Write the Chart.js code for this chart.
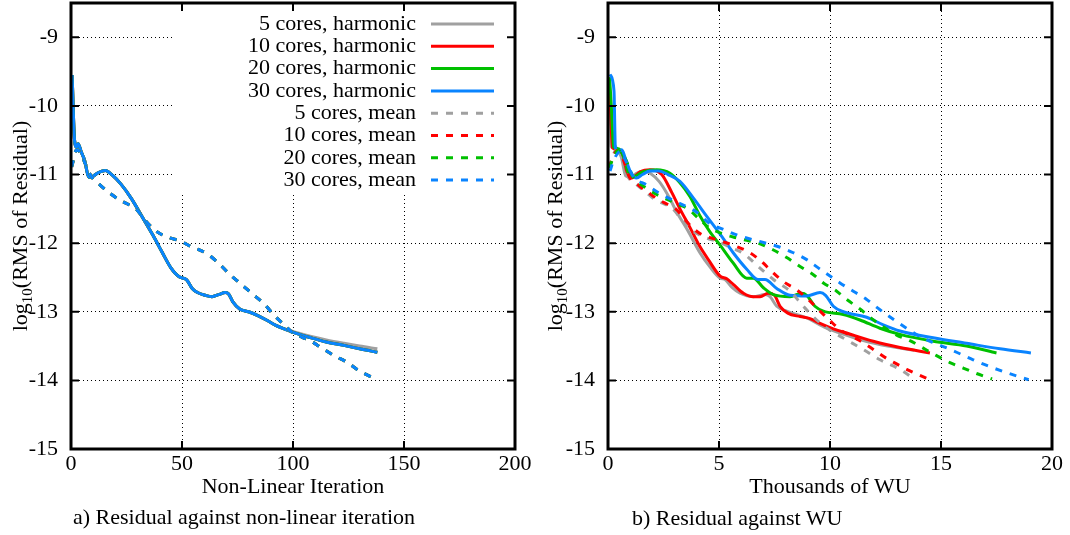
<!DOCTYPE html>
<html>
<head>
<meta charset="utf-8">
<script src="https://cdn.jsdelivr.net/npm/chart.js@4.4.1/dist/chart.umd.min.js"></script>
<style>
  body { margin: 0; background: #fff; width: 1070px; height: 535px; position: relative; overflow: hidden; }
  canvas { position: absolute; top: 0; }
  #cvIter { left: 0; }
  #cvWu { left: 535px; }
  .caption { position: absolute; font: 22px "Liberation Serif", serif; line-height: 22px; white-space: nowrap; color: #000; }
</style>
</head>
<body>
<canvas id="cvIter" width="535" height="535"></canvas>
<canvas id="cvWu" width="535" height="535"></canvas>
<div class="caption" style="left:73px; top:506px">a) Residual against non-linear iteration</div>
<div class="caption" style="left:632px; top:507px">b) Residual against WU</div>
<script>
// ******************************************************** DATA

var seriesLabels = ['5 cores, harmonic', '10 cores, harmonic', '20 cores, harmonic', '30 cores, harmonic',
                    '5 cores, mean', '10 cores, mean', '20 cores, mean', '30 cores, mean'];
var seriesColors = ['#a0a0a0', '#ff0000', '#00c000', '#0a84ff',
                    '#a0a0a0', '#ff0000', '#00c000', '#0a84ff'];
var seriesDashed = [false, false, false, false, true, true, true, true];

var yTicks = [-15, -14, -13, -12, -11, -10, -9];
var iterTicks = [0, 50, 100, 150, 200];
var wuTicks = [0, 5, 10, 15, 20];

// log10 residual against non-linear iteration: [iteration, value]
var iterHarm5 = [[0.5,-9.55],[1.6,-10.5],[2.5,-10.6],[3.2,-10.55],[4.6,-10.67],[6.2,-10.8],[8,-11.04],[9.6,-11.03],
  [12.4,-10.97],[15.5,-10.94],[18.6,-11.01],[22.5,-11.14],[27,-11.34],[32.5,-11.64],[37,-11.89],[41,-12.13],
  [45,-12.36],[48.7,-12.49],[52,-12.53],[54.6,-12.66],[57,-12.72],[60.5,-12.76],[63.5,-12.78],[66.5,-12.75],
  [69.5,-12.72],[71,-12.74],[73,-12.86],[76,-12.96],[80,-13.0],[84.4,-13.06],[88,-13.12],[91.8,-13.19],
  [99.3,-13.28],[108.2,-13.36],[115,-13.41],[123,-13.46],[130,-13.5],[138,-13.54]];
var iterHarm = [[0.5,-9.55],[1.6,-10.5],[2.5,-10.6],[3.2,-10.55],[4.6,-10.67],[6.2,-10.8],[8,-11.04],[9.6,-11.03],
  [12.4,-10.97],[15.5,-10.94],[18.6,-11.01],[22.5,-11.14],[27,-11.34],[32.5,-11.64],[37,-11.89],[41,-12.13],
  [45,-12.36],[48.7,-12.49],[52,-12.53],[54.6,-12.66],[57,-12.72],[60.5,-12.76],[63.5,-12.78],[66.5,-12.75],
  [69.5,-12.72],[71,-12.74],[73,-12.86],[76,-12.96],[80,-13.0],[84.4,-13.06],[88,-13.12],[91.8,-13.19],
  [99.3,-13.29],[108.2,-13.38],[115,-13.44],[123,-13.49],[130,-13.54],[138,-13.59]];
var iterMean = [[0.3,-10.89],[1,-10.8],[2.5,-10.64],[4.6,-10.7],[6.5,-10.85],[9.2,-11.03],[13,-11.15],[17.4,-11.27],
  [21.9,-11.37],[25.5,-11.43],[29.3,-11.5],[33,-11.65],[36.7,-11.78],[40,-11.86],[44.2,-11.92],[49.4,-11.97],
  [54,-12.05],[58,-12.1],[62,-12.17],[66.7,-12.3],[71.7,-12.46],[76,-12.58],[81.4,-12.73],[86.8,-12.88],
  [91.8,-13.06],[96,-13.19],[100,-13.31],[104,-13.37],[108.2,-13.43],[113,-13.53],[118.6,-13.64],[124,-13.73],
  [129.8,-13.86],[134,-13.93],[138,-13.99]];

// log10 residual against thousands of work units: [kWU, value]
var wuHarm5 = [[0.03,-9.6],[0.1,-10.0],[0.15,-10.6],[0.3,-10.58],[0.45,-10.66],[0.6,-10.75],[0.8,-11.02],[1.0,-11.04],
  [1.3,-10.98],[1.6,-10.95],[1.9,-10.98],[2.3,-11.1],[2.7,-11.3],[3.1,-11.55],[3.6,-11.82],[4.14,-12.14],
  [4.6,-12.35],[5.05,-12.51],[5.27,-12.53],[5.6,-12.65],[5.95,-12.73],[6.55,-12.78],[7.07,-12.75],[7.3,-12.78],
  [7.6,-12.92],[8.05,-12.99],[8.95,-13.09],[9.85,-13.24],[10.45,-13.31],[11.5,-13.42],[12.6,-13.5],[13.8,-13.56]];
var wuHarm10 = [[0.05,-9.6],[0.12,-10.1],[0.2,-10.61],[0.4,-10.63],[0.55,-10.66],[0.69,-10.73],[0.84,-10.95],
  [1.07,-11.05],[1.44,-10.96],[1.89,-10.93],[2.42,-11.0],[2.87,-11.26],[3.24,-11.5],[3.69,-11.77],[4.14,-12.05],
  [4.52,-12.24],[5.05,-12.48],[5.35,-12.52],[5.64,-12.6],[6.1,-12.73],[6.55,-12.78],[6.85,-12.78],[7.22,-12.73],
  [7.5,-12.76],[7.75,-12.92],[8.1,-13.02],[8.65,-13.07],[9.1,-13.1],[9.55,-13.17],[10.15,-13.25],[10.75,-13.31],
  [11.95,-13.43],[13.15,-13.52],[14.5,-13.6]];
var wuHarm20 = [[0.07,-9.58],[0.15,-10.0],[0.25,-10.6],[0.4,-10.62],[0.54,-10.64],[0.7,-10.74],[0.92,-10.98],
  [1.14,-11.03],[1.59,-10.96],[2.19,-10.93],[2.79,-10.98],[3.24,-11.12],[3.69,-11.32],[4.14,-11.6],[4.6,-11.84],
  [5.05,-12.03],[5.64,-12.29],[6.25,-12.51],[6.55,-12.51],[7.0,-12.65],[7.45,-12.75],[8.2,-12.78],[8.72,-12.73],
  [8.95,-12.76],[9.32,-12.92],[9.7,-12.99],[10.6,-13.04],[11.35,-13.12],[12.25,-13.24],[13.15,-13.33],
  [14.65,-13.43],[16.15,-13.5],[17.5,-13.6]];
var wuHarm30 = [[0.09,-9.54],[0.27,-9.78],[0.33,-10.6],[0.45,-10.66],[0.62,-10.64],[0.8,-10.78],[1.07,-11.0],
  [1.29,-11.05],[1.55,-11.0],[1.9,-10.95],[2.3,-10.95],[2.7,-11.0],[3.24,-11.1],[3.84,-11.34],[4.45,-11.61],
  [5.05,-11.87],[5.64,-12.14],[6.25,-12.38],[6.77,-12.53],[7.07,-12.53],[7.6,-12.66],[8.2,-12.76],[8.95,-12.77],
  [9.55,-12.72],[9.8,-12.76],[10.15,-12.92],[10.6,-13.0],[11.65,-13.08],[12.4,-13.19],[13.15,-13.28],
  [14.65,-13.38],[16.15,-13.46],[17.66,-13.54],[19.05,-13.6]];
var wuMean5 = [[0.03,-10.9],[0.2,-10.75],[0.35,-10.65],[0.6,-10.75],[0.9,-11.03],[1.3,-11.15],[1.75,-11.27],
  [2.18,-11.38],[2.55,-11.43],[2.92,-11.5],[3.3,-11.65],[3.66,-11.78],[4.0,-11.86],[4.4,-11.92],[4.98,-11.98],
  [5.5,-12.06],[6.1,-12.15],[6.77,-12.34],[7.45,-12.53],[8.2,-12.7],[8.8,-12.92],[9.4,-13.12],[10.0,-13.27],
  [10.75,-13.41],[11.5,-13.55],[12.25,-13.7],[13.15,-13.84],[13.75,-13.97]];
var wuMean10 = [[0.05,-10.9],[0.22,-10.75],[0.4,-10.65],[0.65,-10.75],[0.95,-11.03],[1.35,-11.15],[1.85,-11.27],
  [2.3,-11.37],[2.65,-11.43],[3.05,-11.5],[3.45,-11.65],[3.82,-11.78],[4.2,-11.87],[4.6,-11.92],[5.1,-11.97],
  [5.8,-12.05],[6.4,-12.14],[6.92,-12.27],[7.37,-12.41],[7.9,-12.56],[8.5,-12.68],[9.02,-12.82],[9.55,-12.99],
  [10.0,-13.13],[10.45,-13.26],[11.0,-13.36],[11.5,-13.45],[12.0,-13.56],[12.55,-13.68],[13.0,-13.76],
  [13.45,-13.84],[14.0,-13.92],[14.5,-13.99]];
var wuMean20 = [[0.06,-10.9],[0.25,-10.75],[0.45,-10.65],[0.75,-10.75],[1.14,-11.04],[1.6,-11.17],[2.19,-11.29],
  [2.79,-11.38],[3.2,-11.44],[3.6,-11.5],[4.05,-11.63],[4.5,-11.76],[5.05,-11.85],[5.64,-11.91],[6.25,-11.96],
  [6.85,-12.01],[7.45,-12.1],[8.05,-12.21],[8.65,-12.34],[9.25,-12.46],[9.7,-12.58],[10.3,-12.7],[10.75,-12.82],
  [11.35,-12.96],[11.88,-13.1],[12.4,-13.22],[13.0,-13.34],[13.6,-13.42],[14.2,-13.53],[14.8,-13.64],
  [15.4,-13.74],[16.0,-13.82],[16.6,-13.9],[17.3,-13.98]];
var wuMean30 = [[0.09,-10.95],[0.27,-10.78],[0.57,-10.66],[0.8,-10.8],[1.14,-11.03],[1.74,-11.15],[2.3,-11.27],
  [2.9,-11.37],[3.55,-11.47],[4.0,-11.55],[4.6,-11.72],[5.05,-11.78],[5.8,-11.88],[6.4,-11.94],[7.0,-11.99],
  [7.75,-12.06],[8.35,-12.14],[8.95,-12.24],[9.47,-12.36],[10.0,-12.48],[10.45,-12.58],[11.05,-12.7],
  [11.65,-12.82],[12.25,-12.97],[12.85,-13.11],[13.45,-13.24],[14.05,-13.36],[14.65,-13.45],[15.2,-13.52],
  [15.7,-13.59],[16.45,-13.7],[17.2,-13.8],[18.26,-13.92],[18.95,-13.99]];

// ******************************************************** HELPERS

var FONT = 'Liberation Serif';

function makeDatasets(seriesData) {
	return seriesData.map(function (pts, i) {
		return {
			label: seriesLabels[i],
			data: pts.map(function (p) { return { x: p[0], y: p[1] }; }),
			borderColor: seriesColors[i],
			backgroundColor: seriesColors[i],
			borderWidth: 3,
			borderDash: seriesDashed[i] ? [7, 8] : [],
			borderCapStyle: 'butt',
			pointRadius: 0,
			fill: false,
			cubicInterpolationMode: 'monotone',
			order: seriesData.length - i   // later series on top
		};
	});
}

// no extra room for half labels at the ends of the axes
function noEdgePadding(s) {
	s.paddingTop = 0; s.paddingBottom = 0; s.paddingLeft = 0; s.paddingRight = 0;
}

// thick border round the plot plus inward ticks on all four sides
var frameTicks = {
	id: 'frameTicks',
	afterDatasetsDraw: function (chart) {
		var a = chart.chartArea, ctx = chart.ctx;
		var xs = chart.scales.x, ys = chart.scales.y;
		ctx.save();
		ctx.strokeStyle = '#000';
		ctx.setLineDash([]);
		ctx.lineWidth = 2;
		ctx.beginPath();
		xs.ticks.forEach(function (t) {
			var px = xs.getPixelForValue(t.value);
			ctx.moveTo(px, a.bottom); ctx.lineTo(px, a.bottom - 8);
			ctx.moveTo(px, a.top); ctx.lineTo(px, a.top + 8);
		});
		ys.ticks.forEach(function (t) {
			var py = ys.getPixelForValue(t.value);
			ctx.moveTo(a.left, py); ctx.lineTo(a.left + 8, py);
			ctx.moveTo(a.right, py); ctx.lineTo(a.right - 8, py);
		});
		ctx.stroke();
		ctx.lineWidth = 3;
		ctx.strokeRect(a.left, a.top, a.right - a.left, a.bottom - a.top);
		ctx.restore();
	}
};

// rotated y title with a subscript
var yTitle = {
	id: 'yTitle',
	afterDraw: function (chart, args, opts) {
		var a = chart.chartArea, ctx = chart.ctx;
		var big = '22px "' + FONT + '"', small = '15px "' + FONT + '"';
		ctx.save();
		ctx.font = big;
		var w1 = ctx.measureText('log').width;
		var w3 = ctx.measureText('(RMS of Residual)').width;
		ctx.font = small;
		var w2 = ctx.measureText('10').width;
		var s = -(w1 + w2 + w3) / 2;
		ctx.translate(opts.x, (a.top + a.bottom) / 2);
		ctx.rotate(-Math.PI / 2);
		ctx.fillStyle = '#000';
		ctx.textAlign = 'left';
		ctx.textBaseline = 'alphabetic';
		ctx.font = big;  ctx.fillText('log', s, 0);
		ctx.font = small; ctx.fillText('10', s + w1, 5);
		ctx.font = big;  ctx.fillText('(RMS of Residual)', s + w1 + w2, 0);
		ctx.restore();
	}
};

// key in the top right corner, blanking the grid behind it
var keyBox = {
	id: 'keyBox',
	beforeDatasetsDraw: function (chart, args, opts) {
		var a = chart.chartArea, ctx = chart.ctx;
		ctx.save();
		ctx.fillStyle = '#fff';
		ctx.fillRect(opts.left, a.top, a.right - opts.left, opts.bottom - a.top);
		ctx.restore();
	},
	afterDraw: function (chart, args, opts) {
		var ctx = chart.ctx;
		ctx.save();
		ctx.font = '22px "' + FONT + '"';
		ctx.textAlign = 'right';
		ctx.textBaseline = 'middle';
		chart.data.datasets.forEach(function (ds, i) {
			var y = opts.firstRow + i * opts.rowGap;
			ctx.fillStyle = '#000';
			ctx.fillText(ds.label, opts.textRight, y);
			ctx.strokeStyle = ds.borderColor;
			ctx.lineWidth = 3;
			ctx.setLineDash(ds.borderDash);
			ctx.beginPath();
			ctx.moveTo(opts.lineFrom, y);
			ctx.lineTo(opts.lineTo, y);
			ctx.stroke();
		});
		ctx.restore();
	}
};

function makeOptions(xMax, xTickList, xTitle, yWidth, padRight) {
	return {
		responsive: false,
		animation: false,
		devicePixelRatio: 1,
		layout: { autoPadding: false, padding: { left: 0, right: padRight, top: 3, bottom: 37 } },
		plugins: {
			legend: { display: false },
			tooltip: { enabled: false },
			yTitle: { x: 27 }
		},
		scales: {
			x: {
				type: 'linear', min: 0, max: xMax, bounds: 'data',
				afterBuildTicks: function (s) { s.ticks = xTickList.map(function (v) { return { value: v }; }); },
				afterFit: function (s) { s.height = 49; noEdgePadding(s); },
				grid: { color: '#000', lineWidth: 1, drawTicks: false },
				border: { display: false, dash: [1, 3] },
				ticks: { color: '#000', font: { family: FONT, size: 22, lineHeight: 1 }, padding: 4, maxRotation: 0, autoSkip: false },
				title: { display: true, text: xTitle, color: '#000', font: { family: FONT, size: 22, lineHeight: 1 }, padding: 0 }
			},
			y: {
				type: 'linear', min: -15, max: -8.5, bounds: 'data',
				afterBuildTicks: function (s) { s.ticks = yTicks.map(function (v) { return { value: v }; }); },
				afterFit: function (s) { s.width = yWidth; noEdgePadding(s); },
				grid: { color: '#000', lineWidth: 1, drawTicks: false },
				border: { display: false, dash: [1, 3] },
				ticks: { color: '#000', font: { family: FONT, size: 22, lineHeight: 1 }, padding: 13, autoSkip: false }
			}
		}
	};
}

// ******************************************************** CHARTS

var iterOptions = makeOptions(200, iterTicks, 'Non-Linear Iteration', 71, 20);
iterOptions.plugins.keyBox = { left: 174, bottom: 193, firstRow: 24, rowGap: 22.3, textRight: 416, lineFrom: 431, lineTo: 494 };

new Chart(document.getElementById('cvIter').getContext('2d'), {
	type: 'line',
	data: { datasets: makeDatasets([iterHarm5, iterHarm, iterHarm, iterHarm, iterMean, iterMean, iterMean, iterMean]) },
	options: iterOptions,
	plugins: [keyBox, frameTicks, yTitle]
});

new Chart(document.getElementById('cvWu').getContext('2d'), {
	type: 'line',
	data: { datasets: makeDatasets([wuHarm5, wuHarm10, wuHarm20, wuHarm30, wuMean5, wuMean10, wuMean20, wuMean30]) },
	options: makeOptions(20, wuTicks, 'Thousands of WU', 73, 18),
	plugins: [frameTicks, yTitle]
});
</script>
</body>
</html>
